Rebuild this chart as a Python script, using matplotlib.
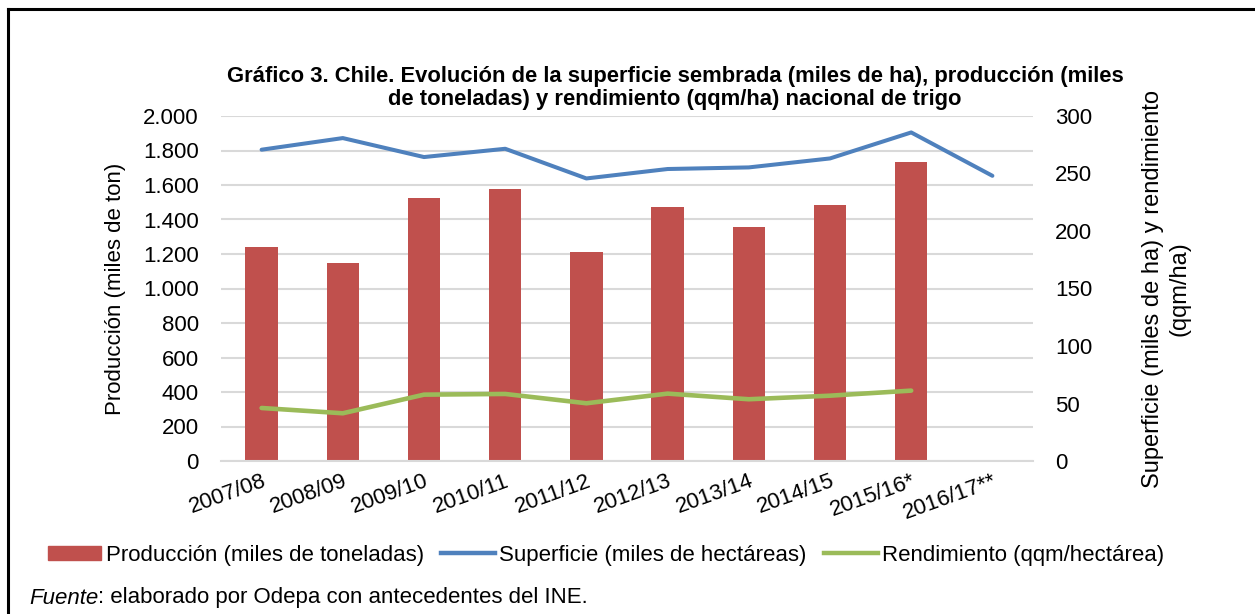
import numpy as np
import matplotlib
matplotlib.use("Agg")
import matplotlib.pyplot as plt
from matplotlib.lines import Line2D

plt.rcParams['font.family'] = ['Liberation Sans', 'DejaVu Sans']

# datos
temporadas = ['2007/08', '2008/09', '2009/10', '2010/11', '2011/12',
              '2012/13', '2013/14', '2014/15', '2015/16*', '2016/17**']
produccion = [1238, 1147, 1522, 1576, 1213, 1474, 1358, 1483, 1733, np.nan]
superficie = [270.7, 280.8, 264.3, 271.5, 245.7, 253.9, 255.3, 263.1, 285.7, 248.0]
rendimiento = [46.1, 41.5, 57.7, 58.3, 50.2, 58.6, 53.7, 56.8, 61.2, np.nan]

ticks_izq = list(range(0, 2001, 200))
ticks_der = list(range(0, 301, 50))

rojo = '#C0504D'
azul = '#4F81BD'
verde = '#9BBB59'
gris = '#D9D9D9'
fs = 16

fig = plt.figure(figsize=(12.55, 6.14), dpi=100)
ax = fig.add_axes([221 / 1255, 1 - 461 / 614, (1033 - 221) / 1255, (461 - 116) / 614])
ax2 = ax.twinx()

x = np.arange(len(temporadas))
ax.bar(x, produccion, width=0.4, color=rojo, zorder=2)
ax2.plot(x, superficie, color=azul, lw=2.9, solid_capstyle='round', zorder=3)
ax2.plot(x, rendimiento, color=verde, lw=3.3, solid_capstyle='round', zorder=3)

ax.set_xlim(-0.5, len(temporadas) - 0.5)
ax.set_ylim(0, 2000)
ax2.set_ylim(0, 300)
ax.set_yticks(ticks_izq)
ax.set_yticklabels([f"{v:,}".replace(',', '.') for v in ticks_izq], fontsize=fs)
ax2.set_yticks(ticks_der)
ax2.set_yticklabels([str(v) for v in ticks_der], fontsize=fs)
ax.yaxis.grid(True, color=gris, lw=1.5, zorder=0)
ax.set_axisbelow(True)

ax.set_xticks(x)
ax.set_xticklabels(temporadas, fontsize=fs, rotation=20, ha='right', va='top',
                   rotation_mode='anchor')
for a in (ax, ax2):
    for s in a.spines.values():
        s.set_visible(False)
    a.tick_params(length=0)
ax.tick_params(axis='y', pad=16)
ax.tick_params(axis='x', pad=7)
ax2.tick_params(axis='y', pad=16)
ax.spines['bottom'].set_visible(True)
ax.spines['bottom'].set_color(gris)
ax.spines['bottom'].set_linewidth(1.5)

ax.set_ylabel('Producción (miles de ton)', fontsize=fs, labelpad=12)
ax2.set_ylabel('Superficie (miles de ha) y rendimiento\n(qqm/ha)', fontsize=17,
               labelpad=36, rotation=90, va='top', linespacing=1.25)

fig.text(675 / 1255, 1 - 88 / 614,
         'Gráfico 3. Chile. Evolución de la superficie sembrada (miles de ha), producción (miles\n'
         'de toneladas) y rendimiento (qqm/ha) nacional de trigo',
         ha='center', va='center', fontsize=15.8, fontweight='bold', linespacing=1.15)

labels = ['Producción (miles de toneladas)', 'Superficie (miles de hectáreas)',
          'Rendimiento (qqm/hectárea)']
handles = [plt.Rectangle((0, 0), 1, 1, color=rojo),
           Line2D([], [], color=azul, lw=3.2),
           Line2D([], [], color=verde, lw=3.2)]
fig.legend(handles, labels, loc='center', bbox_to_anchor=(606 / 1255, 1 - 555 / 614),
           ncol=3, frameon=False, fontsize=fs, handlelength=2.4, handleheight=0.6,
           handletextpad=0.2, columnspacing=0.8)

t1 = fig.text(29 / 1255, 1 - 598 / 614, 'Fuente', fontsize=fs, style='italic',
              ha='left', va='center')
ax.annotate(': elaborado por Odepa con antecedentes del INE.', xy=(1, 0),
            xycoords=t1, xytext=(0, 0), textcoords='offset points',
            fontsize=fs, ha='left', va='bottom', annotation_clip=False)

# marco
fig.add_artist(Line2D([8 / 1255, 8 / 1255], [0, 1 - 9 / 614], color='black', lw=2.2,
                      transform=fig.transFigure))
fig.add_artist(Line2D([8 / 1255, 1], [1 - 9 / 614, 1 - 9 / 614], color='black', lw=2.2,
                      transform=fig.transFigure))

fig.savefig('out.png', dpi=100)
